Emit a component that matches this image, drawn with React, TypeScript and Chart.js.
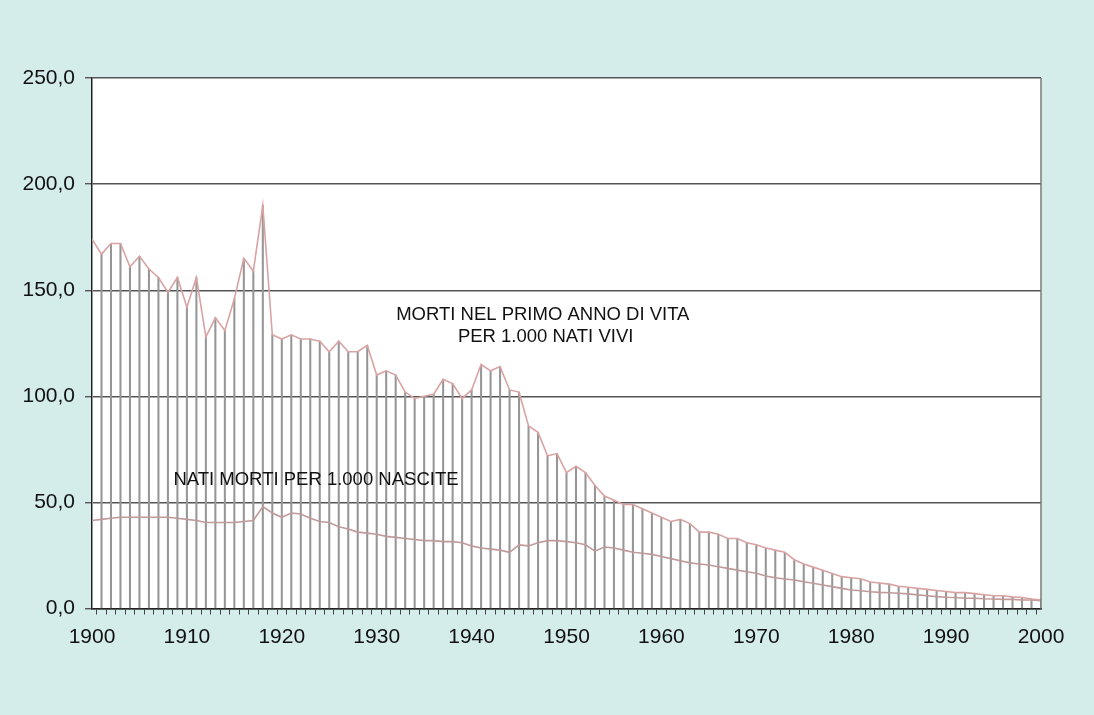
import React, { useEffect, useRef } from "react";
import { Chart, registerables } from "chart.js";

Chart.register(...registerables);

const years: number[] = [];
for (let y = 1900; y <= 2000; y++) years.push(y);

const infantMortality: number[] = [
  174, 167, 172, 172, 161, 166, 160, 156, 149, 156,
  142, 156, 128, 137, 131, 146, 165, 159, 190, 129,
  127, 129, 127, 127, 126, 121, 126, 121, 121, 124,
  110, 112, 110, 102, 99, 100, 101, 108, 106, 99,
  103, 115, 112, 114, 103, 102, 86, 83, 72, 73,
  64, 67, 64, 58, 53, 51, 49, 49, 47, 45,
  43, 41, 42, 40, 36, 36, 35, 33, 33, 31,
  30, 28.5, 27.5, 26.5, 23, 21, 19.5, 18, 16.5, 15,
  14.5, 14, 12.5, 12, 11.5, 10.5, 10, 9.5, 9, 8.5,
  8, 7.5, 7.5, 7, 6.5, 6, 6, 5.5, 5.2, 4.5,
  4,
];

const stillbirths: number[] = [
  41.5, 42, 42.5, 43, 43, 43, 43, 43, 43, 42.5,
  42, 41.5, 40.5, 40.5, 40.5, 40.5, 41, 41.5, 48, 45,
  43, 45, 44.5, 42.5, 41, 40.5, 38.5, 37.5, 36, 35.5,
  35, 34, 33.5, 33, 32.5, 32, 32, 31.5, 31.5, 31,
  29.5, 28.5, 28, 27.5, 26.5, 30, 29.5, 31, 32, 32,
  31.5, 31, 30, 27, 29, 28.5, 27.5, 26.5, 26, 25.5,
  24.5, 23.5, 22.5, 21.5, 21, 20.5, 19.7, 18.9, 18.1, 17.3,
  16.6, 15.3, 14.5, 13.9, 13.4, 12.6, 11.9, 11.1, 10.3, 9.5,
  8.7, 8.4, 7.9, 7.6, 7.4, 7.2, 6.9, 6.4, 6.0, 5.6,
  5.3, 5.2, 4.8, 4.8, 4.6, 4.5, 4.3, 4.3, 4.0, 4.0,
  3.7,
];

const yTicks = { min: 0, max: 250, step: 50 };
const xRange = { min: 1900, max: 2000, labelEvery: 10 };

const labelInfant = ["MORTI NEL PRIMO ANNO DI VITA", "PER 1.000 NATI VIVI"];
const labelStill = ["NATI MORTI PER 1.000 NASCITE"];

const FONT = "'Liberation Sans', Arial, sans-serif";

export default function App() {
  const ref = useRef<HTMLCanvasElement | null>(null);

  useEffect(() => {
    const canvas = ref.current;
    if (!canvas) return;
    document.body.style.margin = "0";

    const bgPlugin = {
      id: "bg",
      beforeDraw(chart: any) {
        const { ctx, chartArea, width, height } = chart;
        ctx.save();
        ctx.fillStyle = "#d4edeb";
        ctx.fillRect(0, 0, width, height);
        ctx.fillStyle = "#ffffff";
        ctx.fillRect(chartArea.left, chartArea.top, chartArea.right - chartArea.left, chartArea.bottom - chartArea.top);
        ctx.restore();
      },
      afterDraw(chart: any) {
        const { ctx, chartArea, scales } = chart;
        ctx.save();
        ctx.strokeStyle = "#7a7a7a";
        ctx.lineWidth = 1.5;
        ctx.beginPath();
        ctx.moveTo(chartArea.right, chartArea.top);
        ctx.lineTo(chartArea.right, chartArea.bottom);
        ctx.stroke();
        ctx.fillStyle = "#111";
        ctx.font = `18.5px ${FONT}`;
        ctx.textAlign = "center";
        ctx.textBaseline = "middle";
        const x1 = scales.x.getPixelForValue(1947.5);
        ctx.fillText(labelInfant[0], x1, scales.y.getPixelForValue(138.5));
        ctx.fillText(labelInfant[1], scales.x.getPixelForValue(1947.8), scales.y.getPixelForValue(128));
        const x2 = scales.x.getPixelForValue(1923.6);
        ctx.fillText(labelStill[0], x2, scales.y.getPixelForValue(60.5));
        ctx.restore();
      },
    };

    const chart = new Chart(canvas, {
      type: "line",
      data: {
        datasets: [
          {
            type: "line",
            data: years.map((x, i) => ({ x, y: infantMortality[i] })),
            borderColor: "#d9a3a3",
            borderWidth: 1.6,
            pointRadius: 0,
            tension: 0,
            order: 1,
          },
          {
            type: "line",
            data: years.map((x, i) => ({ x, y: stillbirths[i] })),
            borderColor: "#c09a9a",
            borderWidth: 1.6,
            pointRadius: 0,
            tension: 0,
            order: 2,
          },
          {
            type: "bar",
            data: years.map((x, i) => ({ x, y: infantMortality[i] })),
            backgroundColor: "#969696",
            barThickness: 1.4,
            order: 3,
          } as any,
        ],
      },
      options: {
        animation: false,
        responsive: false,
        devicePixelRatio: 1,
        layout: { padding: { left: 0, top: 78, right: 53, bottom: 0 } },
        plugins: { legend: { display: false }, tooltip: { enabled: false } },
        scales: {
          x: {
            type: "linear",
            min: xRange.min,
            max: xRange.max,
            offset: false,
            afterFit(scale: any) {
              scale.height = 106.5;
            },
            ticks: {
              stepSize: 1,
              autoSkip: false,
              maxRotation: 0,
              minRotation: 0,
              padding: 10,
              color: "#111",
              font: { family: FONT, size: 21 },
              callback: (v: any) => (Number(v) % xRange.labelEvery === 0 ? String(v) : ""),
            },
            grid: { drawOnChartArea: false, tickLength: 6, color: "#444", lineWidth: 1 },
            border: { display: true, color: "#222", width: 1.5 },
          },
          y: {
            type: "linear",
            min: yTicks.min,
            max: yTicks.max,
            afterFit(scale: any) {
              scale.width = 92;
            },
            ticks: {
              stepSize: yTicks.step,
              padding: 10,
              color: "#111",
              font: { family: FONT, size: 21 },
              callback: (v: any) => Number(v).toFixed(1).replace(".", ","),
            },
            grid: { color: "#555", lineWidth: 1.4, tickLength: 7 },
            border: { display: true, color: "#222", width: 1.5 },
          },
        },
      },
      plugins: [bgPlugin],
    } as any);

    return () => chart.destroy();
  }, []);

  return (
    <div style={{ position: "absolute", left: 0, top: 0, width: 1094, height: 715 }}>
      <canvas ref={ref} width={1094} height={715} />
    </div>
  );
}
